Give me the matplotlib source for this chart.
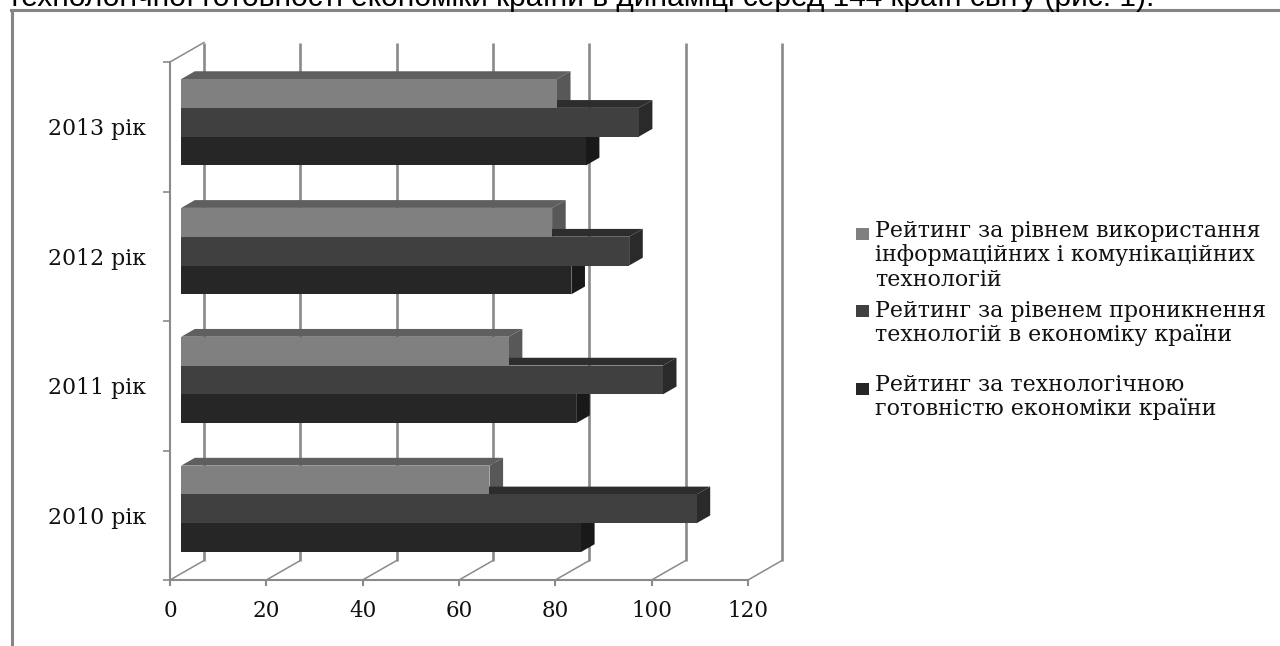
import matplotlib
matplotlib.use("Agg")
import matplotlib.pyplot as plt
from matplotlib.lines import Line2D
from matplotlib.patches import Polygon, Rectangle

W, H = 1280, 646

years = ["2010 рік", "2011 рік", "2012 рік", "2013 рік"]
usage = [64, 68, 77, 78]
penetration = [107, 100, 93, 95]
readiness = [83, 82, 81, 84]
x_ticks = [0, 20, 40, 60, 80, 100, 120]

series_values = [usage, penetration, readiness]
front_colors = ["#808080", "#404040", "#262626"]
top_colors = ["#5f5f5f", "#2d2d2d", "#1f1f1f"]
side_colors = ["#585858", "#2a2a2a", "#191919"]
legend_labels = [
    "Рейтинг за рівнем використання\nінформаційних і комунікаційних\nтехнологій",
    "Рейтинг за рівенем проникнення\nтехнологій в економіку країни",
    "Рейтинг за технологічною\nготовністю економіки країни",
]
heading = "технологічної готовності економіки країни в динаміці серед 144 країн світу (рис. 1)."

GREY = "#8a8a8a"
SERIF = "DejaVu Serif"

fig = plt.figure(figsize=(W / 100, H / 100), dpi=100, facecolor="white")
ax = fig.add_axes([170 / W, (H - 580) / H, (748 - 170) / W, (580 - 62) / H])
ax.set_xlim(0, 120)
ax.set_ylim(0, 4)
ax.patch.set_visible(False)

# Depth of the 3D box, in data units
DX = 34 / (578 / 120)
DY = 19.5 / (518 / 4)
BAR_D0, BAR_D1 = 0.33, 0.73
BAR_H = 28.8 / (518 / 4)
STEP = 0.995

# Back wall, floor diagonals
for v in x_ticks:
    ax.plot([v + DX, v + DX], [DY, 4 + DY], color=GREY, lw=1.9, clip_on=False, zorder=1, solid_capstyle="butt")
    ax.plot([v, v + DX], [0, DY], color=GREY, lw=1.1, clip_on=False, zorder=1)
ax.plot([0, DX], [4, 4 + DY], color=GREY, lw=1.1, clip_on=False, zorder=1)

# Bars
x0 = BAR_D0 * DX
dep_x = (BAR_D1 - BAR_D0) * DX
dep_y = (BAR_D1 - BAR_D0) * DY
for s, values in enumerate(series_values):
    centers = [c * STEP + 0.5 + BAR_D0 * DY + (1 - s) * BAR_H for c in range(len(values))]
    for yc, v in zip(centers, values):
        yb, yt = yc - BAR_H / 2, yc + BAR_H / 2
        xe = x0 + v
        ax.add_patch(Polygon([(x0, yt), (xe, yt), (xe + dep_x, yt + dep_y), (x0 + dep_x, yt + dep_y)],
                             closed=True, fc=top_colors[s], ec="none", clip_on=False, zorder=3 + s * 0.1))
        ax.add_patch(Polygon([(xe, yb), (xe, yt), (xe + dep_x, yt + dep_y), (xe + dep_x, yb + dep_y)],
                             closed=True, fc=side_colors[s], ec="none", clip_on=False, zorder=3 + s * 0.1))
    ax.barh(centers, values, height=BAR_H, left=x0, color=front_colors[s], edgecolor="none", zorder=5, clip_on=False)

# Axes
for name in ("top", "right"):
    ax.spines[name].set_visible(False)
for name in ("left", "bottom"):
    ax.spines[name].set_color(GREY)
    ax.spines[name].set_linewidth(1.5)
ax.set_xticks(x_ticks)
ax.set_xticklabels([str(v) for v in x_ticks], family=SERIF, fontsize=15.5, color="#111111")
ax.set_yticks(range(5))
ax.set_yticklabels([])
ax.set_yticks([c + 0.5 for c in range(4)], minor=True)
ax.set_yticklabels(years, minor=True, family=SERIF, fontsize=15.8, color="#111111")
ax.tick_params(axis="x", length=4.5, width=1.5, color=GREY, pad=10)
ax.tick_params(axis="y", which="major", length=5, width=1.2, color=GREY)
ax.tick_params(axis="y", which="minor", length=0, pad=17)


def fx(px):
    return px / W


def fy(py):
    return 1 - py / H


# Outer chart frame
fig.add_artist(Line2D([fx(11.5), fx(11.5)], [fy(646), fy(10)], color="#858585", lw=2.2))
fig.add_artist(Line2D([fx(10.5), fx(1280)], [fy(10), fy(10)], color="#858585", lw=2.2))

# Heading clipped by the picture's top edge
fig.text(fx(8), fy(5.5), heading, family="Liberation Sans", fontsize=21.5, color="black", va="baseline", ha="left")

# Legend
legend_boxes = [(856, 228), (856, 305), (856, 383)]
legend_text = [(875, 220), (875, 300), (875, 374)]
for color, (bx, by), (tx, ty), label in zip(front_colors, legend_boxes, legend_text, legend_labels):
    fig.add_artist(Rectangle((fx(bx), fy(by + 12)), 13 / W, 12 / H, transform=fig.transFigure, fc=color, ec="none"))
    fig.text(fx(tx), fy(ty), label, family=SERIF, fontsize=15.9, color="#111111",
             va="top", ha="left", linespacing=1.14)

fig.savefig("out.png", dpi=100)
